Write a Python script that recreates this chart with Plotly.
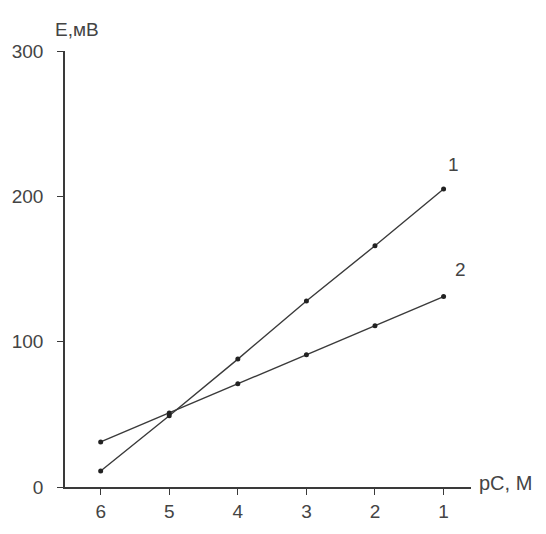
import plotly.graph_objects as go

pC = [6, 5, 4, 3, 2, 1]
E1 = [11, 49, 88, 128, 166, 205]
E2 = [31, 51, 71, 91, 111, 131]
y_ticks = [0, 100, 200, 300]
x_ticks = [6, 5, 4, 3, 2, 1]

line_col = "#3a3a3a"
txt_col = "#444444"
font = dict(family="Liberation Sans, Arial, sans-serif", size=19, color=txt_col)

fig = go.Figure()
for ys in (E1, E2):
    fig.add_trace(go.Scatter(
        x=pC, y=ys, mode="lines+markers",
        line=dict(color=line_col, width=1.4),
        marker=dict(color="#222222", size=5),
        showlegend=False, cliponaxis=False))

fig.add_annotation(x=0.86, y=222, text="1", showarrow=False, font=font)
fig.add_annotation(x=0.75, y=150, text="2", showarrow=False, font=font)
fig.add_annotation(xref="paper", yref="paper", x=-0.03, y=1.0, yshift=34,
                   text="Е,мВ", showarrow=False, xanchor="left", font=font)
fig.add_annotation(xref="paper", yref="paper", x=1.0, y=0.0, xshift=6, yshift=-9,
                   text="pC, M", showarrow=False, xanchor="left",
                   font=dict(family=font["family"], size=20, color=txt_col))

fig.update_xaxes(range=[6.52, 0.6], tickvals=x_ticks, ticktext=[str(v) for v in x_ticks],
                 showgrid=False, zeroline=False, showline=True, linecolor=line_col,
                 linewidth=1.6, ticks="outside", ticklen=6, tickcolor=line_col,
                 tickfont=font, ticklabelstandoff=0, automargin=False)
fig.update_yaxes(range=[0, 300], tickvals=y_ticks, showgrid=False, zeroline=False,
                 showline=True, linecolor=line_col, linewidth=1.6, ticks="outside",
                 ticklen=6, tickcolor=line_col, tickfont=font, ticklabelstandoff=10,
                 automargin=False)

fig.update_layout(width=546, height=534, plot_bgcolor="white", paper_bgcolor="white",
                  margin=dict(l=57, r=83, t=43, b=55))
fig.write_html("out.html")
